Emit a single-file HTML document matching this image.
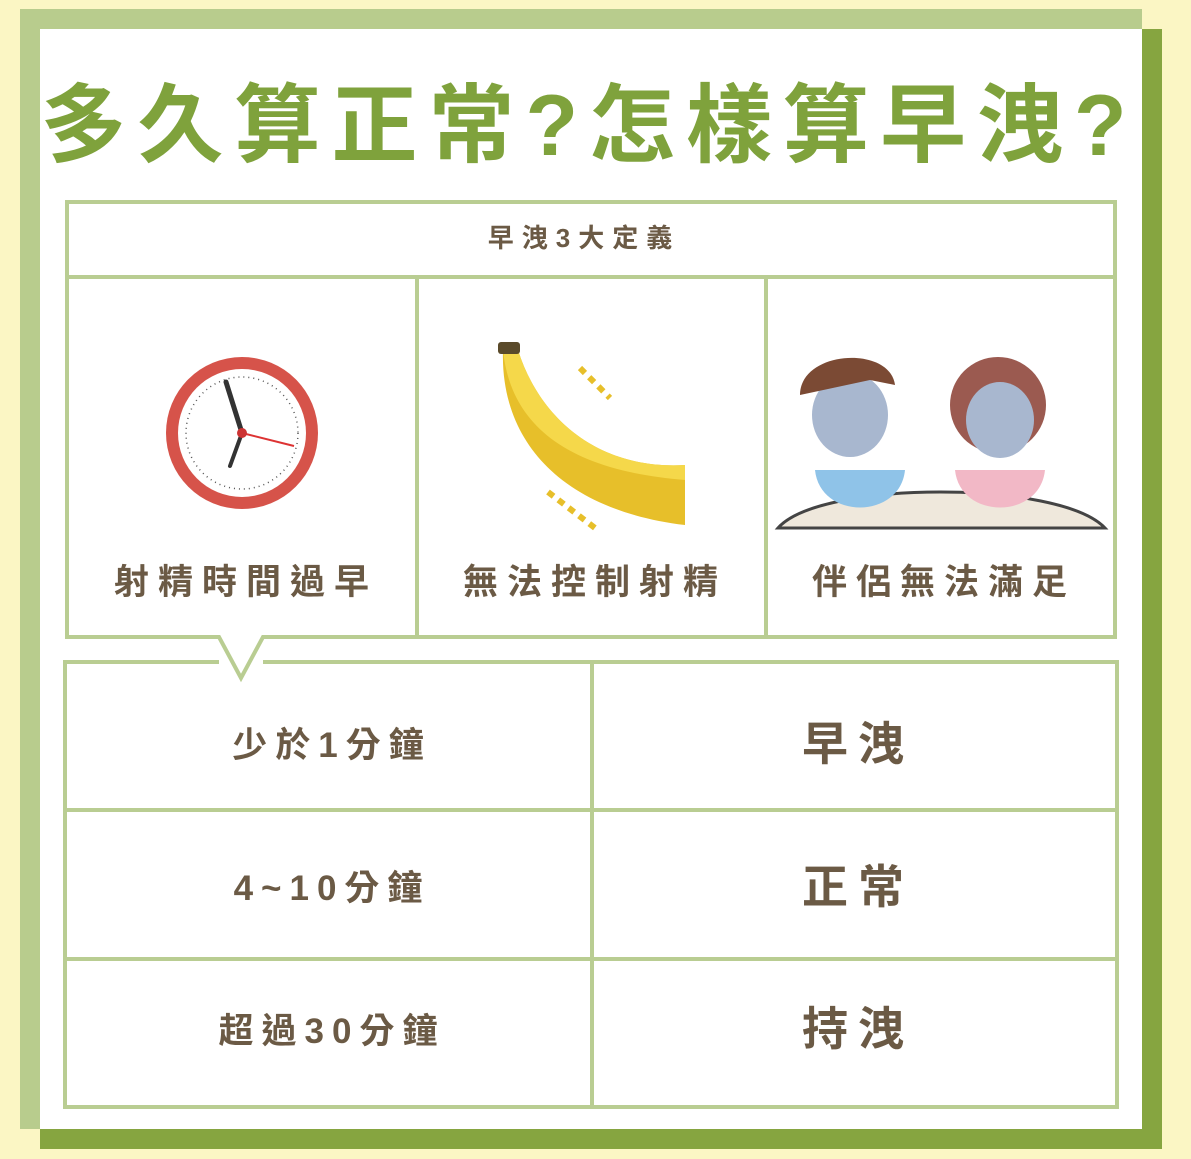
<!DOCTYPE html>
<html><head><meta charset="utf-8"><style>
html,body{margin:0;padding:0;background:#fbf6c4;}
svg{display:block}
text{font-family:"Liberation Sans","Noto Sans CJK TC",sans-serif;font-weight:bold;}
</style></head><body>
<svg width="1191" height="1159" viewBox="0 0 1191 1159">
<rect x="0" y="0" width="1191" height="1159" fill="#fbf6c4"/>
<rect x="20" y="9" width="1122" height="1120" fill="#b8cc8d"/>
<rect x="40" y="29" width="1122" height="1120" fill="#86a540"/>
<rect x="40" y="29" width="1102" height="1100" fill="#ffffff"/>
<text x="589" y="155" font-size="86" fill="#7fa23c" text-anchor="middle" letter-spacing="11">多久算正常?怎樣算早洩?</text>

<g fill="none" stroke="#b9cd92" stroke-width="4">
<rect x="67" y="202" width="1048" height="75"/>
<path d="M67 277 V637 H219 L241 678 L263 637 H1115 V277"/>
<line x1="417" y1="277" x2="417" y2="637"/>
<line x1="766" y1="277" x2="766" y2="637"/>
</g>
<text x="584" y="247" font-size="26" fill="#6b5a45" text-anchor="middle" letter-spacing="8">早洩3大定義</text>

<g>
<circle cx="242" cy="433" r="76" fill="#d6534a"/>
<circle cx="242" cy="433" r="64" fill="#fff"/>
<circle cx="242" cy="433" r="56" fill="none" stroke="#555" stroke-width="1.5" stroke-dasharray="1 4"/>
<line x1="242" y1="433" x2="226" y2="382" stroke="#333" stroke-width="5" stroke-linecap="round"/>
<line x1="242" y1="433" x2="230" y2="466" stroke="#333" stroke-width="4" stroke-linecap="round"/>
<line x1="242" y1="433" x2="294" y2="446" stroke="#d33" stroke-width="2"/>
<circle cx="242" cy="433" r="5" fill="#c33"/>
</g>
<g>
<path d="M503 350 C500 440 560 510 685 525 L685 465 C600 470 540 420 518 350 Z" fill="#e7bf2a"/>
<path d="M503 350 C510 420 560 470 685 480 L685 465 C600 470 540 420 518 350 Z" fill="#f5d84a"/>
<rect x="498" y="342" width="22" height="12" fill="#5a4a2a" rx="3"/>
<path d="M580 368 L610 398" stroke="#e7bf2a" stroke-width="6" stroke-dasharray="7 6"/>
<path d="M548 492 L595 528" stroke="#e7bf2a" stroke-width="6" stroke-dasharray="7 6"/>
</g>
<g>
<path d="M778 528 C820 480 1060 480 1105 528 Z" fill="#efe8dc" stroke="#444" stroke-width="3"/>
<circle cx="998" cy="405" r="48" fill="#9b5a50"/>
<ellipse cx="1000" cy="420" rx="34" ry="38" fill="#a8b7cf"/>
<path d="M955 470 C960 520 1040 520 1045 470 Z" fill="#f2b8c6"/>
<ellipse cx="850" cy="415" rx="38" ry="42" fill="#a8b7cf"/>
<path d="M800 395 C800 350 890 345 895 385 L870 380 Z" fill="#7b4a34"/>
<path d="M815 470 C820 520 900 520 905 470 Z" fill="#8fc3e8"/>
</g>
<text x="246" y="594" font-size="35" fill="#6b5a45" text-anchor="middle" letter-spacing="9">射精時間過早</text>
<text x="595" y="594" font-size="35" fill="#6b5a45" text-anchor="middle" letter-spacing="9">無法控制射精</text>
<text x="944" y="594" font-size="35" fill="#6b5a45" text-anchor="middle" letter-spacing="9">伴侶無法滿足</text>

<g fill="none" stroke="#b9cd92" stroke-width="4">
<path d="M219 662 H65 V1107 H1117 V662 H263"/>
<line x1="65" y1="810" x2="1117" y2="810"/>
<line x1="65" y1="959" x2="1117" y2="959"/>
<line x1="592" y1="662" x2="592" y2="1107"/>
</g>
<text x="332" y="757" font-size="35" fill="#6b5a45" text-anchor="middle" letter-spacing="8">少於1分鐘</text>
<text x="332" y="900" font-size="35" fill="#6b5a45" text-anchor="middle" letter-spacing="8">4~10分鐘</text>
<text x="332" y="1043" font-size="35" fill="#6b5a45" text-anchor="middle" letter-spacing="8">超過30分鐘</text>
<text x="858" y="760" font-size="46" fill="#6b5a45" text-anchor="middle" letter-spacing="10">早洩</text>
<text x="858" y="903" font-size="46" fill="#6b5a45" text-anchor="middle" letter-spacing="10">正常</text>
<text x="858" y="1045" font-size="46" fill="#6b5a45" text-anchor="middle" letter-spacing="10">持洩</text>
</svg>
</body></html>
